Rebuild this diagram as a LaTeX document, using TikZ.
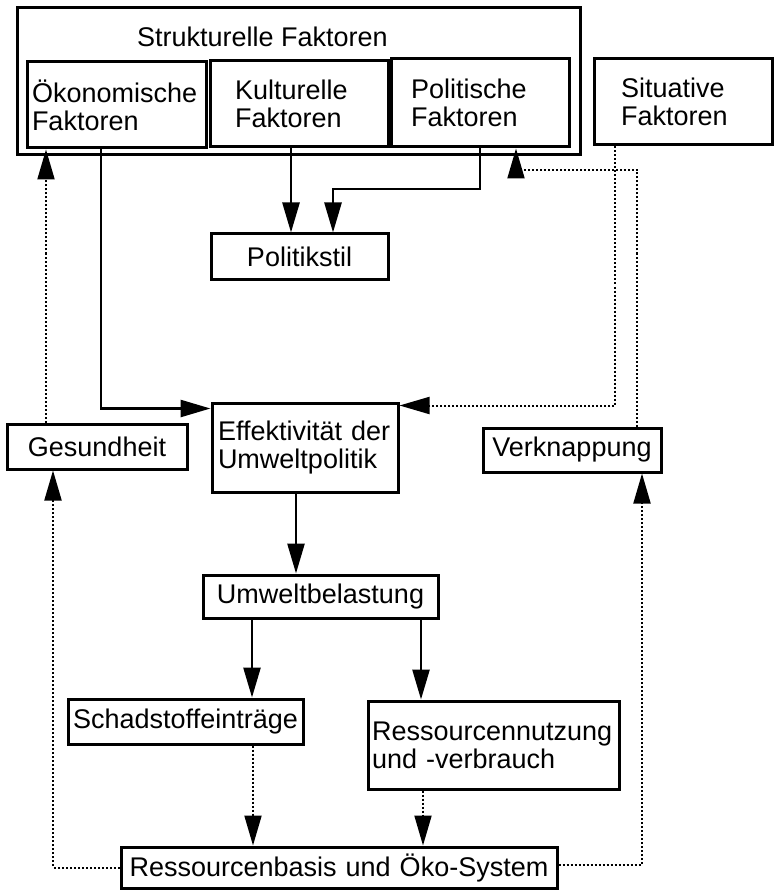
\documentclass[tikz,border=0pt]{standalone}
\usepackage{fontspec}
\setmainfont{Liberation Sans}
\usepackage{tikz}
\usetikzlibrary{arrows.meta}

\begin{document}
\begin{tikzpicture}[x=1pt,y=-1pt,
  box/.style={draw,line width=3pt,inner ysep=0pt,align=left,font=\fontsize{27}{28}\selectfont},
  conn/.style={line width=2.6pt,-{Triangle[length=30pt,width=17pt]}},
  dconn/.style={conn,line width=2pt,dash pattern=on 2pt off 2pt}]
  \useasboundingbox (0,0) rectangle (774,890);
  % Strukturelle Faktoren
  \node[box,minimum width=563pt,minimum height=147pt,inner sep=0pt] (struk) at (298.5,81.5) {};
  \node[font=\fontsize{27}{28}\selectfont] (struktitle) at (262.5,37) {Strukturelle Faktoren};
  \node[box,inner xsep=5pt,text width=169pt,minimum height=86pt] (oeko) at (116.5,105) {Ökonomische\\Faktoren};
  \node[box,inner xsep=25pt,text width=128pt,minimum height=86pt] (kult) at (299,104) {Kulturelle\\Faktoren};
  \node[box,inner xsep=20pt,text width=138pt,minimum height=88pt] (poli) at (480,103) {Politische\\Faktoren};
  \node[box,inner xsep=27pt,text width=124pt,minimum height=86pt] (situ) at (683,102) {Situative\\Faktoren};
  \node[box,align=center,inner xsep=6pt,text width=165pt,minimum height=45pt] (stil) at (299.5,256.5) {Politikstil};
  % mittlere Reihe
  \node[box,inner xsep=6pt,text width=174pt,minimum height=89pt] (eff) at (305,447.5) {Effektivität der\\Umweltpolitik};
  \node[box,align=center,inner xsep=6pt,text width=168pt,minimum height=45pt] (ges) at (97,446.5) {Gesundheit};
  \node[box,align=center,inner xsep=6pt,text width=166pt,minimum height=44pt] (verk) at (572,450) {Verknappung};
  \node[box,align=center,inner xsep=6pt,text width=223pt,minimum height=43pt] (belast) at (320.5,596.5) {Umweltbelastung};
  % untere Reihe
  \node[box,align=center,inner xsep=4pt,text width=227pt,minimum height=45pt] (schad) at (185.5,721.5) {Schadstoffeinträge};
  \node[box,inner xsep=4pt,text width=243pt,minimum height=88pt] (ress) at (493.5,745) {Ressourcennutzung\\und -verbrauch};
  \node[box,align=center,inner xsep=6pt,text width=424pt,minimum height=41pt] (basis) at (339,867.5) {Ressourcenbasis und Öko-System};
  % Pfeile zum Politikstil
  \coordinate (polibend) at (333,189);
  \draw[conn] ([xshift=-8pt]kult.south) -- ([xshift=-8pt]kult.south |- stil.north);
  \draw[conn] (poli.south) |- (polibend) -- (polibend |- stil.north);
  % Pfeile zur Effektivitaet
  \draw[conn] ([xshift=-15.5pt]oeko.south) |- ([yshift=-7pt]eff.north west);
  \draw[dconn] ([xshift=-68pt]situ.south) |- ([yshift=-4pt]eff.north east);
  % Rueckkopplungen nach oben
  \coordinate (verkbend) at (516,170);
  \draw[dconn] ([xshift=65pt]verk.north) |- (verkbend) -- (verkbend |- poli.south);
  \draw[dconn] ([xshift=-51pt]ges.north) -- ([xshift=-51pt]ges.north |- oeko.south);
  % Wirkungskette nach unten
  \draw[conn] ([xshift=-9pt]eff.south) -- ([xshift=-9pt]eff.south |- belast.north);
  \draw[conn] ([xshift=-68.5pt]belast.south) -- ([xshift=-68.5pt]belast.south |- schad.north);
  \draw[conn] ([xshift=100.5pt]belast.south) -- ([xshift=100.5pt]belast.south |- ress.north);
  \draw[dconn] ([xshift=67.5pt]schad.south) -- ([xshift=67.5pt]schad.south |- basis.north);
  \draw[dconn] ([xshift=-70.5pt]ress.south) -- ([xshift=-70.5pt]ress.south |- basis.north);
  % Ressourcenbasis zu Gesundheit und Verknappung
  \draw[dconn] (basis.west) -| ([xshift=-44pt]ges.south);
  \draw[dconn] ([yshift=3pt]basis.east) -| ([xshift=70pt]verk.south);
\end{tikzpicture}
\end{document}
